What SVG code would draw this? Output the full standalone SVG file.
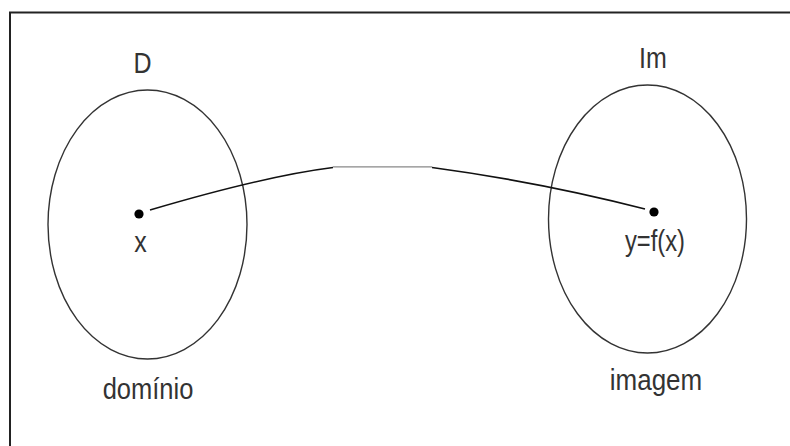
<svg xmlns="http://www.w3.org/2000/svg" width="790" height="446" viewBox="0 0 790 446">
<style>
.set{fill:none;stroke:#333;stroke-width:1.4}
.lbl{font-family:"Liberation Sans",Arial,sans-serif;font-size:25px;fill:#333;text-anchor:middle}
.pt{fill:#000}
</style>
<rect x="0" y="0" width="790" height="446" fill="#fff"/>
<path d="M10,460 L10,12.5 L800,12.5" fill="none" stroke="#222" stroke-width="2"/>
<g id="dominio">
<ellipse class="set" cx="147.5" cy="224.5" rx="99.5" ry="134.5"/>
<text class="lbl" transform="translate(142.5,73) scale(1,1.15)">D</text>
<text class="lbl" transform="translate(148,399) scale(1.02,1.15)">domínio</text>
</g>
<g id="x-point">
<circle class="pt" cx="139" cy="214" r="4.6"/>
<text class="lbl" transform="translate(140.5,252) scale(1,1.15)">x</text>
</g>
<g id="imagem">
<ellipse class="set" cx="647.5" cy="219" rx="99" ry="134"/>
<text class="lbl" transform="translate(653,68) scale(1,1.15)">Im</text>
<text class="lbl" transform="translate(656,390) scale(1.04,1.15)">imagem</text>
</g>
<g id="y-point">
<circle class="pt" cx="654" cy="212" r="4.6"/>
<text class="lbl" transform="translate(655,251) scale(0.95,1.15)">y=f(x)</text>
</g>
<g id="connectors">
<path d="M150,210 Q265,176 333,167.5" fill="none" stroke="#111" stroke-width="1.6"/>
<path d="M333,166.8 L432,166.8" fill="none" stroke="#888" stroke-width="1.2"/>
<path d="M432,167.5 Q540,182 645,209" fill="none" stroke="#111" stroke-width="1.6"/>
</g>
</svg>
